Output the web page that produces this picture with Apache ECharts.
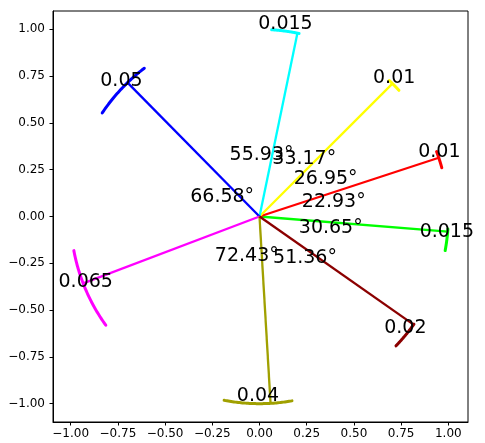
<!DOCTYPE html>
<html>
<head>
<meta charset="utf-8">
<script src="https://cdn.jsdelivr.net/npm/echarts@6/dist/echarts.min.js"></script>
<style>
  html, body { margin: 0; padding: 0; background: #fff; }
  #chart { width: 485px; height: 443px; }
</style>
</head>
<body>
<div id="chart"></div>
<script>
// Direction of each unit ray, degrees counter-clockwise from +x
const rayAngles = [-4.63, 18.30, 45.25, 78.42, 134.35, 200.93, 273.36, 324.72];
// Angular spread of the sampled directions near each ray (start / end, degrees)
const spreadFrom = [-10.5, 15.1, 42.4, 77.9, 127.6, 190.5, 259.2, 316.3];
const spreadTo   = [-3.8, 20.3, 46.6, 86.3, 146.4, 215.5, 279.9, 324.9];
// Noise level annotated at each cluster
const noiseLevels = [0.015, 0.01, 0.01, 0.015, 0.05, 0.065, 0.04, 0.02];
const rayColors = ['#00ff00', '#ff0000', '#ffff00', '#00ffff', '#0000ff', '#ff00ff', '#a0a000', '#8b0000'];
// Axis tick positions
const tickValues = [-1, -0.75, -0.5, -0.25, 0, 0.25, 0.5, 0.75, 1];

const DEG = Math.PI / 180;
const fmtTick = v => v.toFixed(2).replace('-', '\u2212');

// Rays plus their spread arcs
const rayData = rayAngles.map((a, i) => ({
  value: [a, spreadFrom[i], spreadTo[i]],
  itemStyle: { color: rayColors[i] }
}));

// Noise labels sit at the middle of each spread arc
const noiseLabelData = rayAngles.map((a, i) => {
  const mid = (spreadFrom[i] + spreadTo[i]) / 2 * DEG;
  return { value: [Math.cos(mid), Math.sin(mid)], name: String(noiseLevels[i]) };
});

// Angle between consecutive rays, labelled along the bisector
const gapLabelData = rayAngles.map((a, i) => {
  const next = i + 1 < rayAngles.length ? rayAngles[i + 1] : rayAngles[0] + 360;
  const gap = next - a;
  const bis = (a + gap / 2) * DEG;
  return { value: [0.3 * Math.cos(bis), 0.3 * Math.sin(bis)], name: gap.toFixed(2) + '\u00b0' };
});

// Text drawn at a data point, shifted by a pixel offset
function textRenderer(labels, dx, dy) {
  return function (params, api) {
    const p = api.coord([api.value(0), api.value(1)]);
    return {
      type: 'text',
      x: p[0] + dx,
      y: p[1] + dy,
      style: {
        text: labels[params.dataIndex].name,
        fill: '#000',
        font: '19px "DejaVu Sans"',
        align: 'center',
        verticalAlign: 'middle'
      }
    };
  };
}

const chart = echarts.init(document.getElementById('chart'), null, { renderer: 'canvas' });
chart.setOption({
  animation: false,
  backgroundColor: '#fff',
  grid: { left: 53, right: 17, top: 11, bottom: 21, show: true, borderColor: '#000', borderWidth: 1, backgroundColor: 'transparent' },
  xAxis: {
    type: 'value', min: -1.0937, max: 1.1043,
    splitLine: { show: false },
    axisLine: { onZero: false, lineStyle: { color: '#000', width: 1 } },
    axisTick: { customValues: tickValues, length: 3.5, lineStyle: { color: '#000' } },
    axisLabel: { customValues: tickValues, formatter: fmtTick, fontFamily: 'DejaVu Sans', fontSize: 12, color: '#000', margin: 6 }
  },
  yAxis: {
    type: 'value', min: -1.098, max: 1.098,
    splitLine: { show: false },
    axisLine: { onZero: false, lineStyle: { color: '#000', width: 1 } },
    axisTick: { customValues: tickValues, length: 3.5, lineStyle: { color: '#000' } },
    axisLabel: { customValues: tickValues, formatter: fmtTick, fontFamily: 'DejaVu Sans', fontSize: 12, color: '#000', margin: 8 }
  },
  series: [
    {
      type: 'custom',
      coordinateSystem: 'cartesian2d',
      silent: true,
      data: rayData,
      renderItem: function (params, api) {
        const a = api.value(0) * DEG;
        const from = api.value(1), to = api.value(2);
        const o = api.coord([0, 0]);
        const e = api.coord([Math.cos(a), Math.sin(a)]);
        const pts = [];
        const n = 48;
        for (let k = 0; k <= n; k++) {
          const t = (from + (to - from) * k / n) * DEG;
          pts.push(api.coord([Math.cos(t), Math.sin(t)]));
        }
        const color = api.visual('color');
        return {
          type: 'group',
          children: [
            { type: 'line', shape: { x1: o[0], y1: o[1], x2: e[0], y2: e[1] }, style: { stroke: color, lineWidth: 2.3 } },
            { type: 'polyline', shape: { points: pts }, style: { stroke: color, fill: null, lineWidth: 3, lineCap: 'round' } }
          ]
        };
      },
      z: 2
    },
    {
      type: 'custom',
      coordinateSystem: 'cartesian2d',
      silent: true,
      data: noiseLabelData,
      renderItem: textRenderer(noiseLabelData, 0, -7.5),
      z: 5
    },
    {
      type: 'custom',
      coordinateSystem: 'cartesian2d',
      silent: true,
      data: gapLabelData,
      renderItem: textRenderer(gapLabelData, 18, -7.5),
      z: 5
    }
  ]
});
</script>
</body>
</html>
